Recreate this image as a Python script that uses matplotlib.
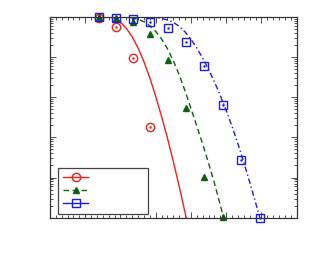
import numpy as np
import matplotlib
matplotlib.use('Agg')
import matplotlib.pyplot as plt
from matplotlib.ticker import MultipleLocator, LogLocator, NullFormatter

# measured points (x in axis units, y on log scale)
red_x = [8.4, 11.2, 14.1, 17.0]
red_y = [0.944, 0.545, 0.092, 1.8e-3]
green_x = [8.4, 11.2, 14.1, 17.0, 20.1, 23.1, 26.2, 29.4]
green_y = [1.0, 0.944, 0.726, 0.365, 0.082, 5.4e-3, 1.03e-4, 1.05e-5]
blue_x = [8.4, 11.2, 14.1, 17.0, 20.1, 23.1, 26.2, 29.4, 32.5, 35.7]
blue_y = [1.0, 0.944, 0.877, 0.751, 0.515, 0.239, 0.059, 6.4e-3, 2.68e-4, 9.6e-6]

# fitted curves (y given as decade exponents)
red_cx = [0, 8, 9, 10, 11, 12, 13, 14, 15, 16, 17, 18, 19, 20, 21, 22, 23.2]
red_ce = [0, 0, -0.002, -0.01, -0.035, -0.13, -0.29, -0.5, -0.78, -1.12, -1.52,
          -1.98, -2.48, -3.02, -3.6, -4.22, -5.0]
green_cx = [0, 11, 12, 13, 14, 15, 16, 17, 18, 19, 20, 21, 22, 23, 24, 25, 26,
            27, 28, 29, 29.55]
green_ce = [0, 0, -0.002, -0.012, -0.03, -0.065, -0.125, -0.225, -0.365, -0.555,
            -0.795, -1.095, -1.445, -1.845, -2.28, -2.72, -3.17, -3.64, -4.14,
            -4.68, -5.0]
blue_cx = [0, 16, 17, 18, 19, 20, 21, 22, 23, 24, 25, 26, 27, 28, 29, 30, 31,
           32, 33, 34, 35, 35.75]
blue_ce = [0, 0, -0.005, -0.018, -0.045, -0.08, -0.14, -0.24, -0.38, -0.56, -0.78,
           -1.03, -1.31, -1.62, -1.96, -2.33, -2.73, -3.16, -3.62, -4.11, -4.62, -5.0]

RED = '#ff1a1a'
GREEN = '#0a640a'
BLUE = '#1a1aff'

fig = plt.figure(figsize=(3.13, 2.63), dpi=100)
ax = fig.add_axes([0.1597, 0.172, 0.788, 0.7645])

ax.plot(red_cx, np.power(10.0, red_ce), '-', color=RED, lw=1.0)
ax.plot(green_cx, np.power(10.0, green_ce), '--', color=GREEN, lw=1.0, dashes=(4, 2.5))
ax.plot(blue_cx, np.power(10.0, blue_ce), '-.', color=BLUE, lw=1.0, dashes=(4, 2, 1, 2))

ax.plot(red_x, red_y, 'o', mfc='none', mec=RED, ms=6, mew=1.0, clip_on=False)
ax.plot(red_x, red_y, '.', color=RED, ms=1.5, clip_on=False)
ax.plot(green_x, green_y, '^', color=GREEN, ms=5, clip_on=False)
ax.plot(blue_x, blue_y, 's', mfc='none', mec=BLUE, ms=6, mew=1.0, clip_on=False)
ax.plot(blue_x, blue_y, '.', color=BLUE, ms=1.5, clip_on=False)

ax.set_yscale('log')
ax.set_xlim(0, 42)
ax.set_ylim(1e-5, 1)
ax.xaxis.set_major_locator(MultipleLocator(6))
ax.xaxis.set_minor_locator(MultipleLocator(1))
ax.yaxis.set_major_locator(LogLocator(base=10, numticks=10))
ax.yaxis.set_minor_locator(LogLocator(base=10, subs=range(2, 10), numticks=10))
for a in (ax.xaxis, ax.yaxis):
    a.set_major_formatter(NullFormatter())
    a.set_minor_formatter(NullFormatter())
ax.tick_params(which='both', direction='in', top=True, right=True, color='#333333', width=0.6)
ax.tick_params(which='major', length=4)
ax.tick_params(which='minor', length=2)
for s in ax.spines.values():
    s.set_color('#333333')
    s.set_linewidth(0.9)

# legend with empty labels
h1, = ax.plot([], [], '-o', color=RED, mfc='none', mec=RED, ms=6, lw=1.0)
h2, = ax.plot([], [], '--^', color=GREEN, ms=5, lw=1.0, dashes=(4, 2.5))
h3, = ax.plot([], [], '-s', color=BLUE, mfc='none', mec=BLUE, ms=6, lw=1.0)
leg = ax.legend([h1, h2, h3], [' ', ' ', ' '], loc='lower left',
                bbox_to_anchor=(0.034, 0.017, 0.364, 0.237), mode='expand',
                fontsize=8, handlelength=2.2, labelspacing=0.3,
                borderpad=0.45, borderaxespad=0, fancybox=False,
                framealpha=1)
leg.get_frame().set_edgecolor('#444444')
leg.get_frame().set_linewidth(0.9)

fig.savefig('out.png', dpi=100)
